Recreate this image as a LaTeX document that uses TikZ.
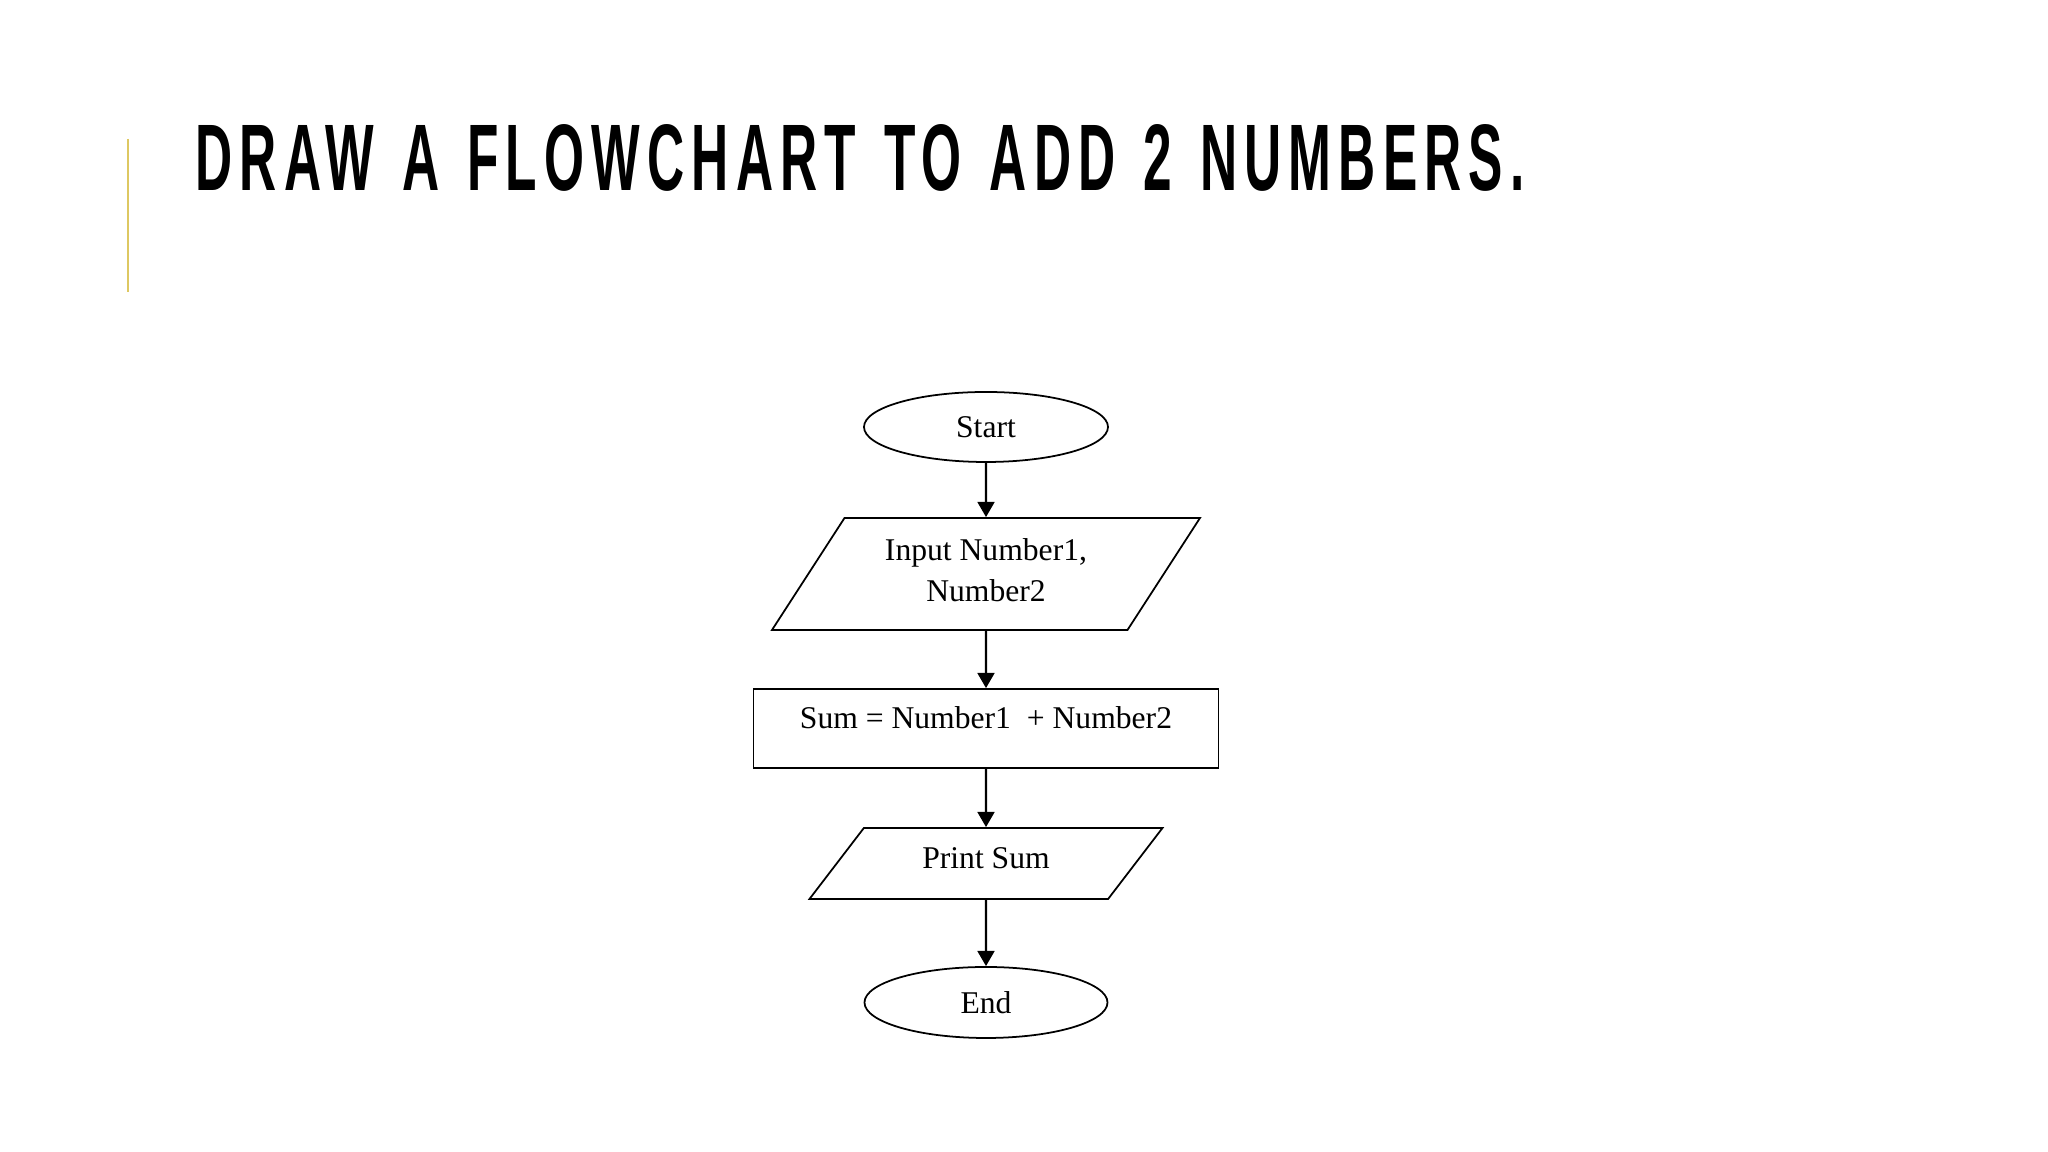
\documentclass[tikz,border=0pt]{standalone}
\usepackage{graphicx}
\usepackage{fontspec}
\setmainfont{Liberation Serif}
\newfontfamily\titlefont{Liberation Sans}[LetterSpace=14,WordSpace=1.3]
\usetikzlibrary{shapes.geometric,arrows.meta}
\definecolor{barGold}{RGB}{222,200,98}

\begin{document}
\begin{tikzpicture}[
    terminal/.style={draw, ellipse, line width=0.5pt, minimum width=2.44cm, minimum height=0.70cm, font=\fontsize{9}{11.7}\selectfont},
    io/.style={draw, trapezium, trapezium stretches body, line width=0.5pt, align=center, font=\fontsize{9}{11.7}\selectfont},
    process/.style={draw, rectangle, line width=0.5pt, font=\fontsize{9}{11.7}\selectfont},
    flow/.style={-{Triangle[width=4.8pt,length=4.3pt]}, line width=0.6pt}
]
            \fill[white] (0,0) rectangle (20.48,11.52);
            \useasboundingbox (0,0) rectangle (20.48,11.52);
            \draw[barGold, line width=0.85pt] (1.28,10.13) -- (1.28,8.60);
            \node[anchor=base west, inner sep=0pt] (title) at (1.95,9.61) {\resizebox{13.29cm}{0.66cm}{\titlefont\bfseries DRAW A FLOWCHART TO ADD 2 NUMBERS.}};
            \node[terminal] (start) at (9.86,7.25) {Start};
            \node[io, minimum width=4.28cm, minimum height=1.12cm, trapezium left angle=52.5, trapezium right angle=127.5, text depth=0.8mm] (input) at (9.86,5.78) {Input Number1,\\Number2};
            \node[process, minimum width=4.65cm, minimum height=0.79cm, text height=2.4mm, text depth=2.4mm] (sum) at (9.86,4.235) {Sum = Number1\ \ + Number2};
            \node[io, minimum width=3.53cm, minimum height=0.71cm, trapezium left angle=45, trapezium right angle=135, text depth=1mm] (print) at (9.86,2.885) {Print Sum};
            \node[terminal, minimum width=2.43cm, minimum height=0.71cm] (end) at (9.86,1.495) {End};
            \draw[flow] (start) -- (input);
            \draw[flow] (input) -- (sum);
            \draw[flow] (sum) -- (print);
            \draw[flow] (print) -- (end);
        \end{tikzpicture}
\end{document}
